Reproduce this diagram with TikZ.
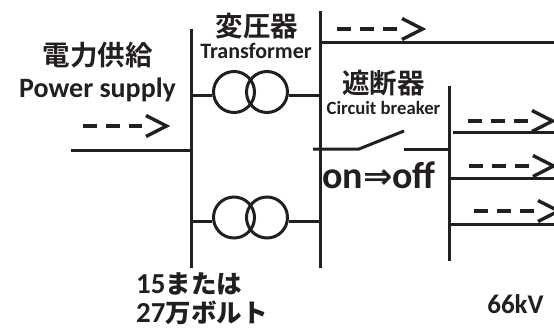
\documentclass[tikz,border=0pt]{standalone}
\usepackage{fontspec}
\setmainfont{Carlito}[BoldFont=Carlito Bold,Numbers=Lining]
\newfontfamily\cjkfont{Noto Sans CJK JP Bold}
\newfontfamily\symfont{DejaVu Sans Bold}
\usetikzlibrary{positioning,calc}
\definecolor{inkline}{HTML}{231F20}

\begin{document}
\begin{tikzpicture}[
    x=1pt, y=-1pt,
    wire/.style={draw=inkline, line width=3pt},
    coil/.style={circle, draw=inkline, line width=3pt, minimum size=41pt, inner sep=0pt},
    flow/.style={draw=inkline, line width=3.4pt, dash pattern=on 13.5pt off 9.5pt},
    chevron/.style={draw=inkline, line width=3.4pt, miter limit=4},
    jplabel/.style={font=\cjkfont\fontsize{27.5}{28}\selectfont, text=inkline, inner sep=0pt},
    enlabel/.style={font=\bfseries\fontsize{#1}{#1}\selectfont, text=inkline, inner sep=0pt}
]
\useasboundingbox (0,0) rectangle (554,330);

% Busbars
\coordinate (LeftTop) at (191,29);
\coordinate (LeftEnd) at (191,268);
\coordinate (MidTop) at (320,11);
\coordinate (MidEnd) at (320,268);
\coordinate (RightTop) at (449,86);
\coordinate (RightEnd) at (449,261);
\draw[wire] (LeftTop) -- (LeftEnd);
\draw[wire] (MidTop) -- (MidEnd);
\draw[wire] (RightTop) -- (RightEnd);

% Incoming and outgoing lines
\coordinate (InStart) at (71,150);
\draw[wire] (InStart) -- (InStart -| LeftTop);
\foreach \name/\xa/\ya in {OutA/320/42, OutB/453/132.5, OutC/449/178, OutD/449/224}{
  \coordinate (\name) at (\xa,\ya);
  \draw[wire] (\name) -- (554,\ya);
}

% Transformers
\foreach \name/\yc/\yl in {Top/92/95, Low/217.5/221}{
  \node[coil] (\name A) at (234,\yc) {};
  \node[coil] (\name B) at (267,\yc) {};
  \draw[wire] (191,\yl) -- (\name A.west |- 0,\yl);
  \draw[wire] (\name B.east |- 0,\yl) -- (320,\yl);
}

% Circuit breaker
\coordinate (SwA) at (313,149);
\coordinate (SwB) at (359,149);
\coordinate (SwC) at (404,131);
\coordinate (SwD) at (404,149);
\draw[wire] (SwA) -- (SwB) -- (SwC);
\draw[wire] (SwD) -- (SwD -| RightTop);

% Dashed flow arrows
\foreach \xs/\xe/\ye in {83/142/126, 337/398/29, 468/528/121, 469/529/166, 474/534/211}{
  \coordinate (FlowS) at (\xs,\ye);
  \coordinate (FlowE) at (\xe,\ye);
  \coordinate (FlowT) at ($(FlowE)+(24.5,0)$);
  \draw[flow] (FlowS) -- (FlowE);
  \draw[chevron] ($(FlowT)+(-20.5,-10.5)$) -- (FlowT) -- ($(FlowT)+(-20.5,10.5)$);
}

% Labels
\node[jplabel] (SupplyJp) at (97.5,55) {電力供給};
\node[enlabel=28] (SupplyEn) at (97.5,90) {Power supply};
\node[jplabel] (TransJp) at (257,26) {変圧器};
\node[enlabel=22] (TransEn) at (256,51) {Transformer};
\node[jplabel] (BreakJp) at (383.5,83) {遮断器};
\node[enlabel=18.7] (BreakEn) at (383.5,108) {Circuit breaker};
\node[enlabel=38, anchor=base west] (OnOff) at (322,188) {on{\symfont\fontsize{35}{35}\selectfont ⇒}off};
\node[enlabel=29, anchor=base west] (VoltA) at (136,293) {15{\cjkfont\fontsize{25.5}{26}\selectfont または}};
\node[enlabel=29, anchor=base west] (VoltB) at (136,322.5) {27{\cjkfont\fontsize{25.5}{26}\selectfont 万ボルト}};
\node[enlabel=27] (VoltC) at (515.5,304) {66kV};

\end{tikzpicture}
\end{document}
